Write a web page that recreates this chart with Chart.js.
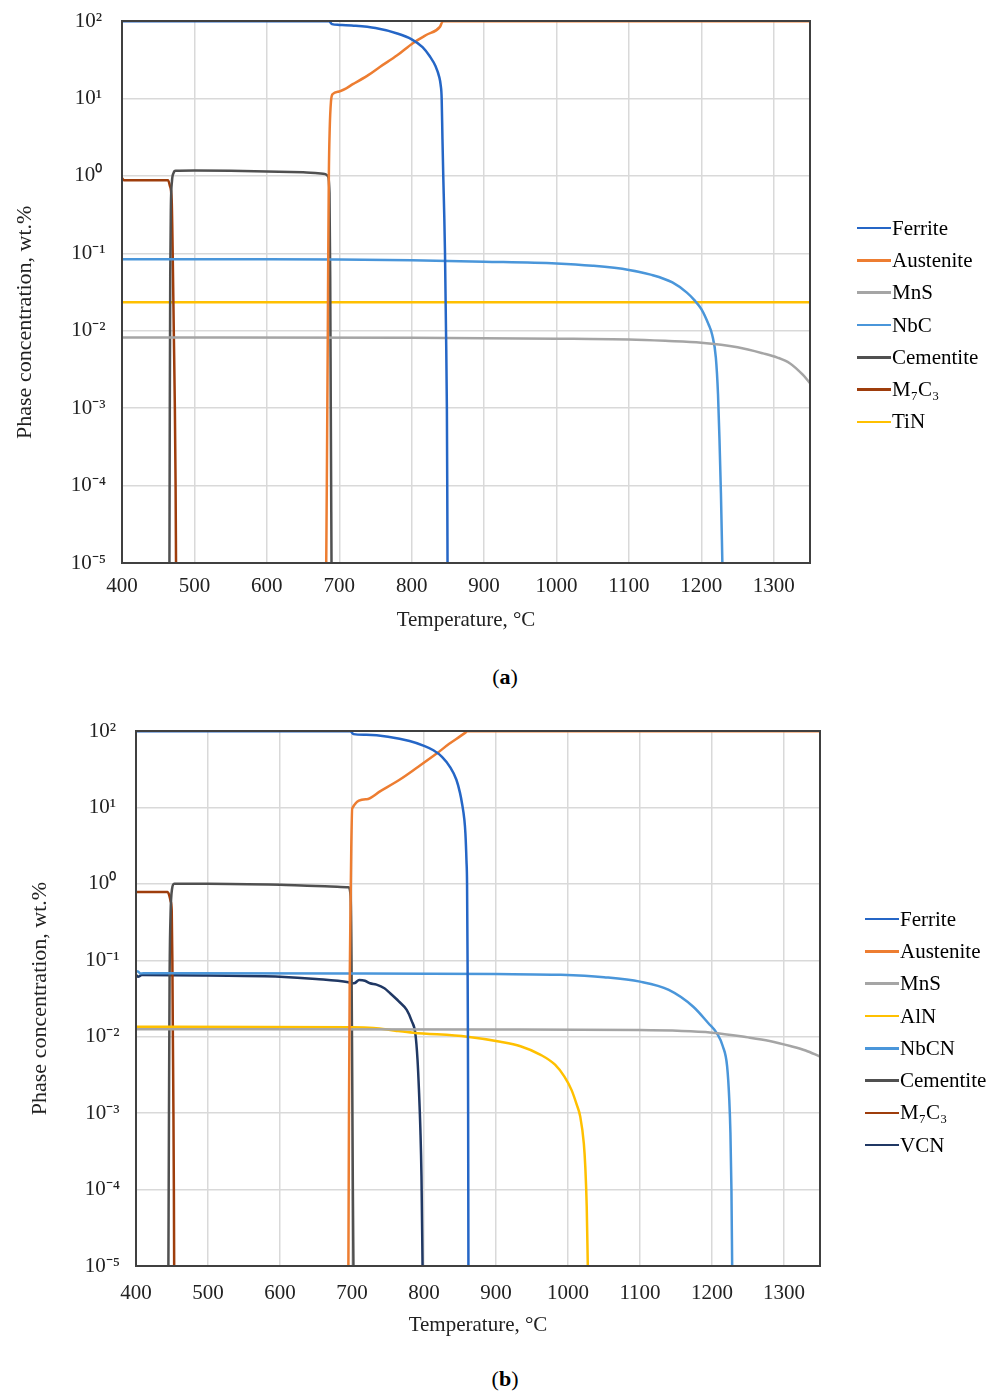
<!DOCTYPE html>
<html>
<head>
<meta charset="utf-8">
<script src="https://cdn.jsdelivr.net/npm/chart.js@4"></script>
<style>
  body { margin: 0; background: #fff; width: 997px; height: 1394px; position: relative; font-family: "Liberation Serif", serif; }
  canvas { position: absolute; left: 0; }
  .legend { position: absolute; font-size: 21px; color: #000; }
  .legend div { display: flex; align-items: center; height: 32.3px; white-space: nowrap; }
  .legend .ln { display: inline-block; width: 34px; height: 2.5px; margin-right: 1px; }
  .cap { position: absolute; left: 0; width: 1010px; text-align: center; font-size: 22px; }
</style>
</head>
<body>
<canvas id="chartA" width="997" height="645" style="top:0"></canvas>
<div class="legend" id="legendA" style="left:857px; top:212px"></div>
<div class="cap" style="top:664px">(<b>a</b>)</div>

<canvas id="chartB" width="997" height="660" style="top:700px"></canvas>
<div class="legend" id="legendB" style="left:865px; top:903px"></div>
<div class="cap" style="top:1366px">(<b>b</b>)</div>

<script>
// axis ticks
const tempTicks = [400, 500, 600, 700, 800, 900, 1000, 1100, 1200, 1300];
const powerTicks = [-5, -4, -3, -2, -1, 0, 1, 2];

// (a) phase amounts, [temperature °C, wt.%]
const ferriteA = [[400,99],[686,99],[690,91],[700,89],[720,87],[750,81],[780,69],[800,58],[815,46],[825,35],[833,26],[838,19],[840,15],[841.4,10],[842.5,3],[843.6,1],[845,0.3],[846,0.1],[847.4,0.01],[848.6,1e-3],[849.1,1e-4],[849.5,1e-5]];
const austeniteA = [[682,1e-5],[682.8,1e-4],[683.5,1e-3],[684.2,0.01],[684.8,0.1],[685.6,1],[686.8,4],[688.5,9],[691,11.4],[700,12.3],[720,15.5],[740,20],[756,25.5],[780,36],[802,52],[820,66],[839,84],[843,99],[1350,99]];
const mnsA = [[400,0.0082],[800,0.0081],[1000,0.0079],[1100,0.0077],[1150,0.0074],[1200,0.0070],[1250,0.0061],[1285,0.0051],[1305,0.0045],[1322,0.0038],[1340,0.0027],[1350,0.0021]];
const nbcA = [[400,0.084],[600,0.084],[700,0.083],[800,0.081],[900,0.078],[1000,0.074],[1050,0.069],[1100,0.061],[1130,0.053],[1160,0.042],[1180,0.031],[1190,0.025],[1200,0.019],[1210,0.012],[1215,0.0088],[1220,0.0045],[1223,0.0015],[1225,4e-4],[1227,8e-5],[1229,1e-5]];
const cementiteA = [[465.5,1e-5],[466,1e-3],[466.6,0.05],[467.5,0.4],[469,0.85],[471,1.08],[474,1.16],[500,1.17],[550,1.16],[600,1.14],[650,1.11],[680,1.06],[684,1.0],[686.5,0.6],[687.5,0.05],[688.3,1e-3],[689.3,1e-5]];
const m7c3A = [[400,0.93],[403,0.88],[463.5,0.88],[466,0.75],[468.6,0.49],[470,0.1],[471.5,0.01],[473,1e-3],[474,1e-4],[474.6,1e-5]];
const tinA = [[400,0.0233],[1350,0.0233]];

// (b) phase amounts, [temperature °C, wt.%]
const ferriteB = [[400,99],[698,99],[702,91],[720,89],[750,84],[780,74],[800,64],[813,56],[825,46],[836,34],[845,23],[850,15.5],[853,11],[856,7],[857.5,4.6],[859,2],[859.8,1],[860.5,0.1],[861,0.01],[861.3,1e-3],[861.5,1e-4],[861.7,1e-5]];
const austeniteB = [[695,1e-5],[695.8,1e-3],[696.8,0.05],[698,0.5],[699,3],[700.3,9.7],[720,12.8],[740,16.5],[766,23],[790,33],[818,51],[835,68],[850,85],[858,96],[860,99],[1350,99]];
const mnsB = [[400,0.0125],[900,0.0124],[1100,0.0122],[1200,0.0113],[1250,0.0098],[1280,0.0088],[1310,0.0075],[1330,0.0066],[1350,0.0055]];
const alnB = [[400,0.0135],[700,0.0133],[730,0.013],[760,0.012],[785,0.0113],[860,0.010],[906,0.0086],[934,0.0075],[962,0.0058],[982,0.0043],[995,0.003],[1005,0.002],[1012,0.0013],[1017,9e-4],[1022,4e-4],[1024,2e-4],[1026,6e-5],[1027.5,1e-5]];
const nbcnB = [[400,0.072],[403,0.071],[406,0.0672],[410,0.0676],[700,0.0672],[900,0.066],[990,0.0645],[1050,0.06],[1100,0.0526],[1140,0.041],[1174,0.0247],[1195,0.015],[1207,0.011],[1215,0.0075],[1221,0.0041],[1224,0.0015],[1225.6,5.5e-4],[1227,1e-4],[1228,1e-5]];
const cementiteB = [[445,1e-5],[445.8,1e-3],[446.6,0.05],[448,0.4],[450,0.85],[453,1.0],[500,1.0],[600,0.97],[650,0.94],[695,0.9],[698,0.7],[699.3,0.1],[700.3,3e-3],[701.2,1e-4],[702,1e-5]];
const m7c3B = [[400,0.78],[444,0.78],[446,0.72],[448,0.6],[449.6,0.45],[450.5,0.1],[451.2,0.01],[452,1e-3],[452.6,1e-4],[453,1e-5]];
const vcnB = [[400,0.064],[403,0.061],[408,0.064],[500,0.063],[600,0.061],[650,0.057],[695,0.0515],[700,0.050],[704,0.0505],[710,0.0552],[718,0.054],[725,0.050],[734,0.048],[745,0.043],[753,0.037],[765,0.029],[776,0.0224],[783,0.016],[788,0.011],[791,0.005],[793,0.002],[795,6e-4],[796.5,1.5e-4],[798,1e-5]];

const colors = {
  ferrite: '#2566c6', austenite: '#ed7d31', mns: '#a5a5a5', nbc: '#4a96da',
  cementite: '#505050', m7c3: '#9e3d0c', tin: '#ffc000', vcn: '#203864'
};

const sup = { '-': '\u207B', '0': '\u2070', '1': '\u00B9', '2': '\u00B2', '3': '\u00B3', '4': '\u2074', '5': '\u2075' };
const powLabel = p => '10' + String(p).split('').map(c => sup[c]).join('');

function series(label, pts, color) {
  return {
    label: label,
    data: pts.map(p => ({ x: p[0], y: p[1] })),
    borderColor: color,
    backgroundColor: color,
    borderWidth: 2.5,
    pointRadius: 0,
    cubicInterpolationMode: 'monotone',
    clip: 3
  };
}

// plot frame on all four sides
const frame = {
  id: 'frame',
  afterDatasetsDraw(chart) {
    const a = chart.chartArea, ctx = chart.ctx;
    ctx.save();
    ctx.strokeStyle = '#404040';
    ctx.lineWidth = 2;
    ctx.strokeRect(a.left, a.top, a.right - a.left, a.bottom - a.top);
    ctx.restore();
  }
};

function makeChart(id, legendId, datasets, g) {
  const font = { family: 'Liberation Serif', size: 21 };
  const chart = new Chart(document.getElementById(id), {
    type: 'line',
    data: { datasets: datasets },
    options: {
      responsive: false,
      animation: false,
      layout: { padding: { top: g.top, right: g.right, left: 0, bottom: 0 } },
      plugins: { legend: { display: false }, tooltip: { enabled: false } },
      scales: {
        x: {
          type: 'linear', min: 400, max: 1350,
          afterBuildTicks: s => { s.ticks = tempTicks.map(v => ({ value: v })); },
          afterFit: s => { s.height = g.xh; },
          grid: { color: '#d9d9d9', lineWidth: 1.5, drawTicks: false },
          border: { color: '#404040', width: 2 },
          ticks: { font: font, color: '#222', padding: g.xpad, maxRotation: 0, callback: v => String(v) },
          title: { display: true, text: 'Temperature, \u00B0C', font: font, color: '#222', padding: { top: 0, bottom: g.xtb } }
        },
        y: {
          type: 'logarithmic', min: 1e-5, max: 100,
          afterBuildTicks: s => { s.ticks = powerTicks.map(p => ({ value: Math.pow(10, p) })); },
          afterFit: s => { s.width = g.yw; s.paddingTop = 0; s.paddingBottom = 0; },
          grid: { color: '#d9d9d9', lineWidth: 1.5, drawTicks: false },
          border: { color: '#404040', width: 2 },
          ticks: {
            font: font, color: '#222', padding: g.ypad, crossAlign: 'center',
            callback: v => powLabel(Math.round(Math.log10(v)))
          },
          title: { display: true, text: 'Phase concentration, wt.%' + g.ytail, font: { family: 'Liberation Serif', size: 22 }, color: '#222', padding: { top: g.ytp, bottom: 0 } }
        }
      }
    },
    plugins: [frame]
  });

  // legend beside the plot, built from the datasets
  const box = document.getElementById(legendId);
  chart.data.datasets.forEach(ds => {
    const row = document.createElement('div');
    const ln = document.createElement('span');
    ln.className = 'ln';
    ln.style.background = ds.borderColor;
    row.appendChild(ln);
    row.appendChild(document.createTextNode(ds.label));
    box.appendChild(row);
  });
  return chart;
}

makeChart('chartA', 'legendA', [
  series('Ferrite', ferriteA, colors.ferrite),
  series('Austenite', austeniteA, colors.austenite),
  series('MnS', mnsA, colors.mns),
  series('NbC', nbcA, colors.nbc),
  series('Cementite', cementiteA, colors.cementite),
  series('M\u2087C\u2083', m7c3A, colors.m7c3),
  series('TiN', tinA, colors.tin)
], { top: 21, right: 187, xh: 82, xpad: 11, xtb: 12, yw: 122, ypad: 16, ytp: 12, ytail: '           ' });

makeChart('chartB', 'legendB', [
  series('Ferrite', ferriteB, colors.ferrite),
  series('Austenite', austeniteB, colors.austenite),
  series('MnS', mnsB, colors.mns),
  series('AlN', alnB, colors.tin),
  series('NbCN', nbcnB, colors.nbc),
  series('Cementite', cementiteB, colors.cementite),
  series('M\u2087C\u2083', m7c3B, colors.m7c3),
  series('VCN', vcnB, colors.vcn)
], { top: 31, right: 177, xh: 94, xpad: 15, xtb: 22, yw: 136, ypad: 16, ytp: 27, ytail: '' });
</script>
</body>
</html>
